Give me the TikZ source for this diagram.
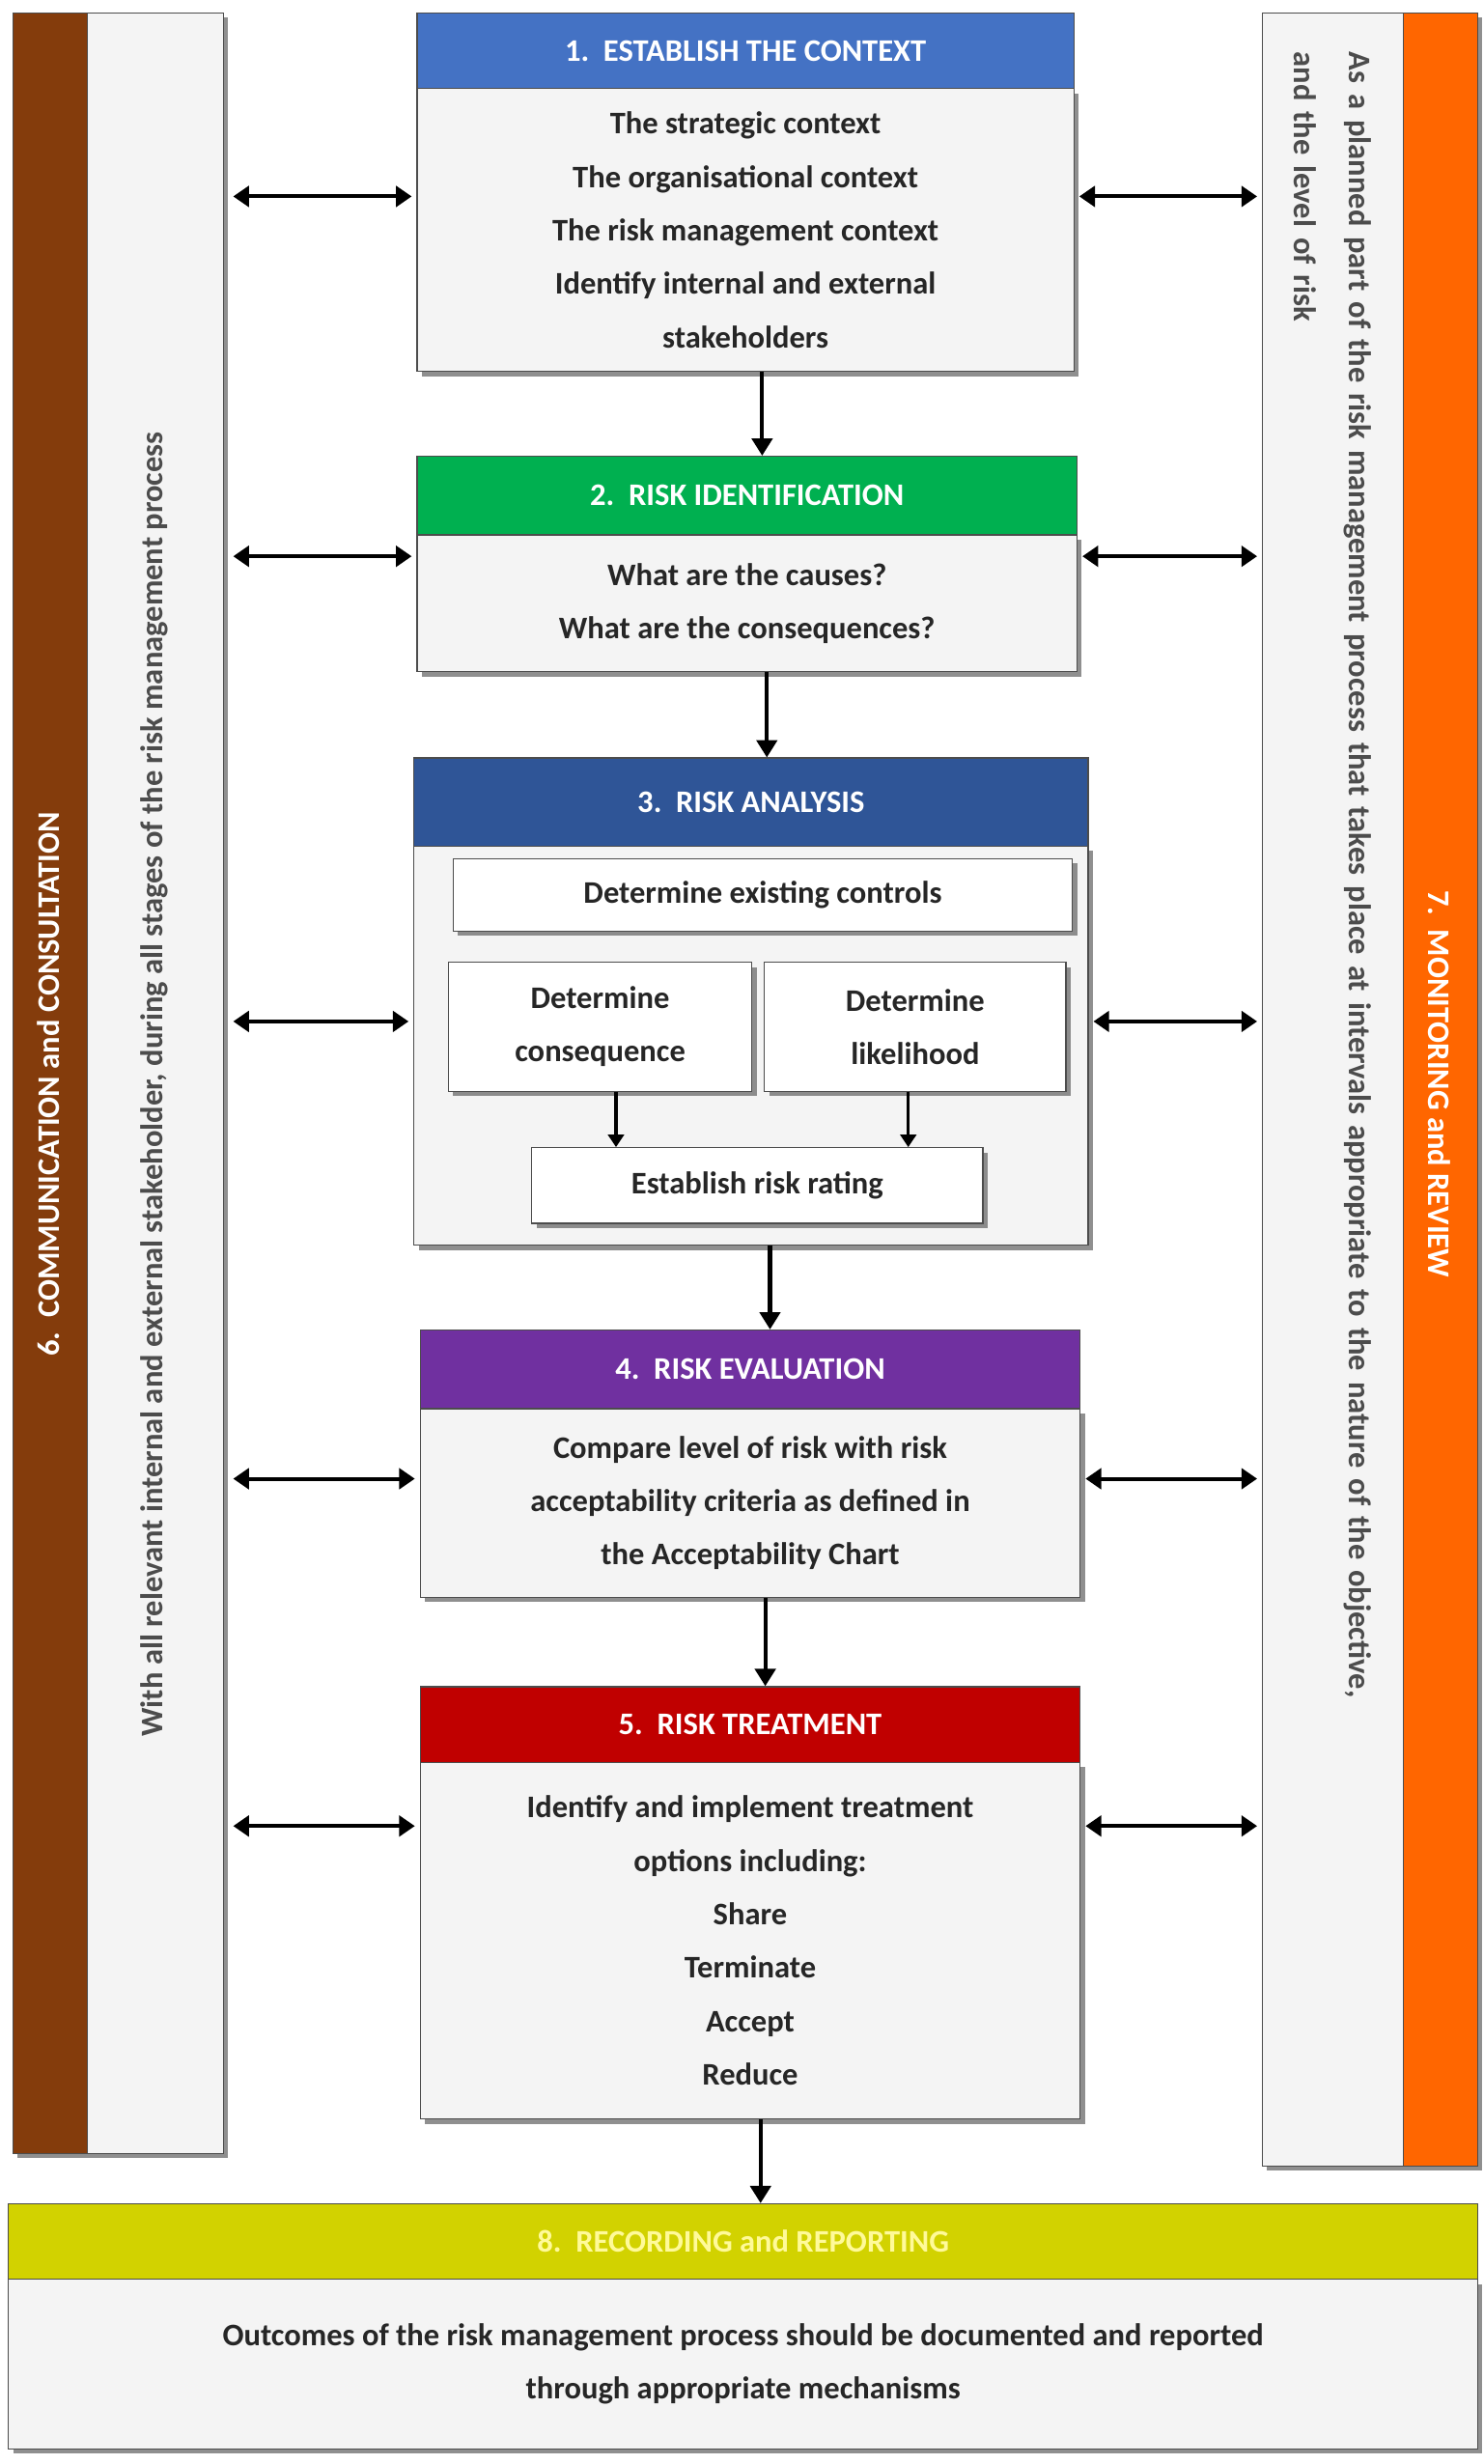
\documentclass[tikz,border=0pt]{standalone}
\usepackage{fontspec}
\setmainfont{Carlito}
\usetikzlibrary{arrows.meta,shadows}
\definecolor{c1}{HTML}{4472C4}
\definecolor{c2}{HTML}{00B050}
\definecolor{c3}{HTML}{2F5597}
\definecolor{c4}{HTML}{7030A0}
\definecolor{c5}{HTML}{C00000}
\definecolor{c8}{HTML}{D2D200}
\definecolor{brown}{HTML}{843C0C}
\definecolor{orng}{HTML}{FF6600}
\definecolor{bodyg}{HTML}{F4F4F4}
\begin{document}
\begin{tikzpicture}[x=1pt,y=-1pt,
  txt/.style={font=\fontsize{20}{34}\selectfont\bfseries, align=center, text=black!85},
  sh/.style={drop shadow={shadow xshift=3pt,shadow yshift=-3pt,fill=black!55,opacity=0.8}},
  hdr/.style={draw=black!70, line width=0.8pt, anchor=north west, inner sep=0pt, font=\fontsize{20}{24}\selectfont\bfseries, text=white},
  bod/.style={sh, draw=black!70, line width=0.8pt, fill=bodyg, anchor=north west, inner sep=0pt, txt},
  inb/.style={sh, draw=black!70, line width=0.8pt, fill=white, anchor=north west, inner sep=0pt, txt},
  dn/.style={-{Triangle[length=11pt,width=13pt]}, line width=2.5pt},
  dbl/.style={{Triangle[length=10pt,width=13pt]}-{Triangle[length=10pt,width=13pt]}, line width=2.5pt},
  sm/.style={-{Triangle[length=8pt,width=10pt]}, line width=2pt}]
\useasboundingbox (0,0) rectangle (944,1568);
% side panels
\node[sh, draw=black!70, fill=brown, anchor=north west, minimum width=47pt, minimum height=1362pt, inner sep=0pt] (lb) at (8,8) {};
\node[sh, draw=black!70, fill=bodyg, anchor=north west, minimum width=87pt, minimum height=1362pt, inner sep=0pt] (lp) at (55,8) {};
\node[rotate=90, font=\fontsize{20}{24}\selectfont\bfseries, text=white] (lbt) at (31,690) {6.\ \ COMMUNICATION and CONSULTATION};
\node[rotate=90, font=\fontsize{20}{24}\selectfont\bfseries, text=black!70] (lpt) at (98,690) {With all relevant internal and external stakeholder, during all stages of the risk management process};
\node[sh, draw=black!70, fill=bodyg, anchor=north west, minimum width=90pt, minimum height=1370pt, inner sep=0pt] (rp) at (803,8) {};
\node[sh, draw=black!70, fill=orng, anchor=north west, minimum width=47pt, minimum height=1370pt, inner sep=0pt] (rb) at (893,8) {};
\node[rotate=-90, font=\fontsize{20}{24}\selectfont\bfseries, text=white] (rbt) at (916,690) {7.\ \ MONITORING and REVIEW};
\node[rotate=-90, text width=1320pt, align=left, font=\fontsize{20}{35}\selectfont\bfseries, text=black!70] (rpt) at (848,693) {As a planned part of the risk management process that takes place at intervals appropriate to the nature of the objective,\\and the level of risk};
% box 1
\node[bod, minimum width=418pt, minimum height=180pt] (b1) at (265,56) {The strategic context\\The organisational context\\The risk management context\\Identify internal and external\\stakeholders};
\node[hdr, fill=c1, minimum width=418pt, minimum height=48pt] (h1) at (265,8) {1.\ \ ESTABLISH THE CONTEXT};
% box 2
\node[bod, minimum width=420pt, minimum height=87pt] (b2) at (265,340) {What are the causes?\\What are the consequences?};
\node[hdr, fill=c2, minimum width=420pt, minimum height=50pt] (h2) at (265,290) {2.\ \ RISK IDENTIFICATION};
% box 3
\node[bod, minimum width=429pt, minimum height=254pt] (b3) at (263,538) {};
\node[hdr, fill=c3, minimum width=429pt, minimum height=56pt] (h3) at (263,482) {3.\ \ RISK ANALYSIS};
\node[inb, minimum width=394pt, minimum height=46pt] (i1) at (288,546) {Determine existing controls};
\node[inb, minimum width=193pt, minimum height=82pt] (i2) at (285,612) {Determine\\consequence};
\node[inb, minimum width=192pt, minimum height=82pt] (i3) at (486,612) {Determine\\likelihood};
\node[inb, minimum width=287pt, minimum height=48pt] (i4) at (338,730) {Establish risk rating};
\draw[sm] (i2.south -| 392,0) -- (i4.north -| 392,0);
\draw[sm] (i3.south -| 578,0) -- (i4.north -| 578,0);
% box 4
\node[bod, minimum width=420pt, minimum height=120pt] (b4) at (267,896) {Compare level of risk with risk\\acceptability criteria as defined in\\the Acceptability Chart};
\node[hdr, fill=c4, minimum width=420pt, minimum height=50pt] (h4) at (267,846) {4.\ \ RISK EVALUATION};
% box 5
\node[bod, minimum width=420pt, minimum height=227pt] (b5) at (267,1121) {Identify and implement treatment\\options including:\\Share\\Terminate\\Accept\\Reduce};
\node[hdr, fill=c5, minimum width=420pt, minimum height=48pt] (h5) at (267,1073) {5.\ \ RISK TREATMENT};
% box 8
\node[bod, minimum width=935pt, minimum height=108pt] (b8) at (5,1450) {Outcomes of the risk management process should be documented and reported\\through appropriate mechanisms};
\node[hdr, fill=c8, text=yellow!40, minimum width=935pt, minimum height=48pt] (h8) at (5,1402) {8.\ \ RECORDING and REPORTING};
% down arrows
\draw[dn] (b1.south -| 485,0) -- (h2.north -| 485,0);
\draw[dn] (b2.south -| 488,0) -- (h3.north -| 488,0);
\draw[dn] (b3.south -| 490,0) -- (h4.north -| 490,0);
\draw[dn] (b4.south -| 487,0) -- (h5.north -| 487,0);
\draw[dn] (b5.south -| 484,0) -- (h8.north -| 484,0);
% side arrows
\foreach \b/\y in {b1/125,b2/354,b3/650,b4/941,b5/1162}{
  \draw[dbl, shorten <=6pt, shorten >=3pt] (lp.east |- 0,\y) -- (\b.west |- 0,\y);
  \draw[dbl, shorten <=3pt, shorten >=3pt] (\b.east |- 0,\y) -- (rp.west |- 0,\y);
}
\end{tikzpicture}
\end{document}
